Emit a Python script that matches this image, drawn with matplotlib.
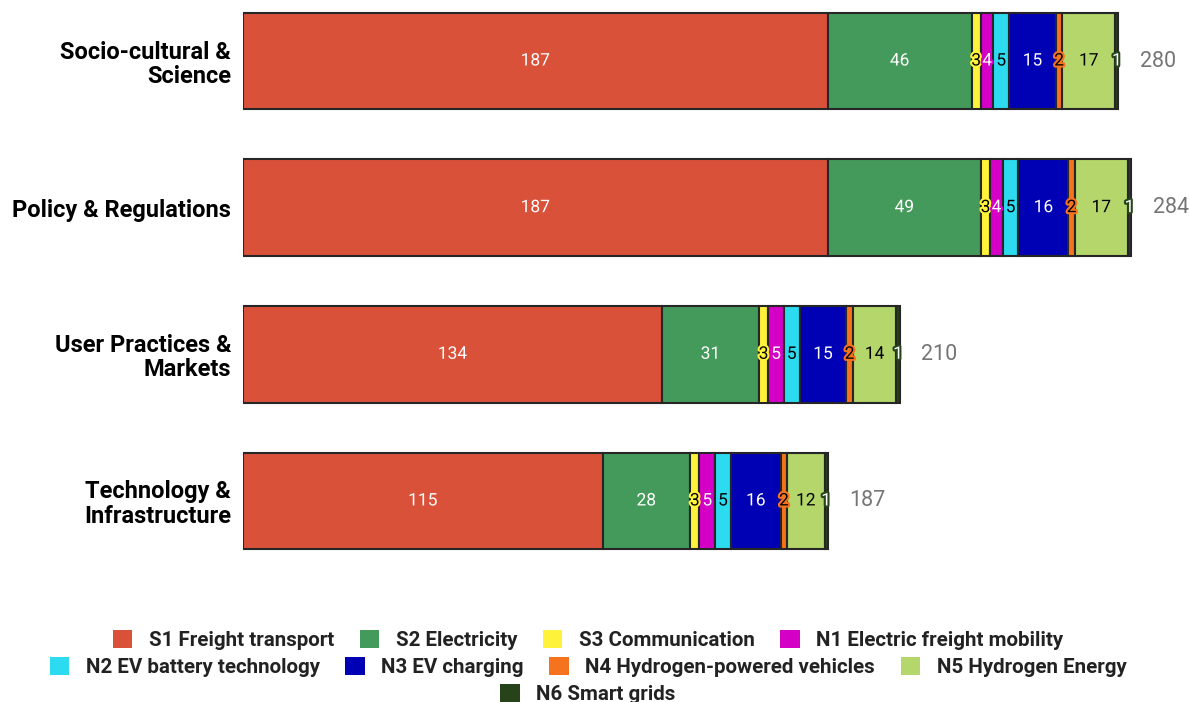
import matplotlib
matplotlib.use("Agg")
import matplotlib.pyplot as plt
import matplotlib.patches as mpatches
import matplotlib.patheffects as pe
import numpy as np

plt.rcParams['font.family'] = ['Roboto', 'DejaVu Sans']

# ---- data ----
categories = ['Socio-cultural &\nScience', 'Policy & Regulations',
              'User Practices &\nMarkets', 'Technology &\nInfrastructure']
series = ['S1 Freight transport', 'S2 Electricity', 'S3 Communication',
          'N1 Electric freight mobility', 'N2 EV battery technology',
          'N3 EV charging', 'N4 Hydrogen-powered vehicles',
          'N5 Hydrogen Energy', 'N6 Smart grids']
s1 = [187, 187, 134, 115]
s2 = [46, 49, 31, 28]
s3 = [3, 3, 3, 3]
n1 = [4, 4, 5, 5]
n2 = [5, 5, 5, 5]
n3 = [15, 16, 15, 16]
n4 = [2, 2, 2, 2]
n5 = [17, 17, 14, 12]
n6 = [1, 1, 1, 1]
values = [s1, s2, s3, n1, n2, n3, n4, n5, n6]

colors = ['#DA513A', '#449A5A', '#FFF23A', '#D500C6', '#2CDBF0',
          '#0000B5', '#F5731F', '#B4D66A', '#26431A']
text_colors = ['white', 'white', 'black', 'white', 'black',
               'white', 'black', 'black', 'white']

fig = plt.figure(figsize=(11.9, 7.02), dpi=100)
ax = fig.add_axes([243 / 1190, 1 - 575 / 702, 938 / 1190, 575 / 702])

ind = np.arange(len(categories))
left = np.zeros(len(categories))
for vals, col, tcol in zip(values, colors, text_colors):
    vals = np.array(vals)
    ax.barh(ind, vals, height=0.66, left=left, color=col,
            edgecolor='#262626', linewidth=1.5)
    for i, v in enumerate(vals):
        ax.text(left[i] + v / 2, ind[i], str(v), ha='center', va='center',
                fontsize=12.5, color=tcol,
                path_effects=[pe.withStroke(linewidth=3, foreground=col)])
    left += vals

# totals to the right of each bar
for i, tot in enumerate(left):
    ax.text(tot + 7, ind[i], '%d' % tot, ha='left', va='center',
            fontsize=15.5, color='#757575')

ax.set_xlim(0, 300)
ax.set_ylim(3.505, -0.416)
ax.set_yticks(ind)
ax.set_yticklabels(categories, fontsize=17, fontweight='bold',
                   linespacing=1.06)
ax.tick_params(axis='y', length=0, pad=8.5)
ax.set_xticks([])
for sp in ax.spines.values():
    sp.set_visible(False)

# legend, three centred rows
handles = [mpatches.Patch(facecolor=c, edgecolor='none', label=s)
           for c, s in zip(colors, series)]
rows = [(handles[0:4], 640), (handles[4:8], 667), (handles[8:], 694)]
for hs, ypx in rows:
    leg = fig.legend(handles=hs, loc='center', ncol=len(hs),
                     bbox_to_anchor=(588 / 1190, 1 - ypx / 702),
                     frameon=False, prop={'size': 14.8, 'weight': 'bold'},
                     handlelength=0.95, handleheight=0.95, handletextpad=0.8,
                     columnspacing=1.25, borderaxespad=0, borderpad=0)
    for t in leg.get_texts():
        t.set_color('#222222')

plt.savefig('out.png', dpi=100)
